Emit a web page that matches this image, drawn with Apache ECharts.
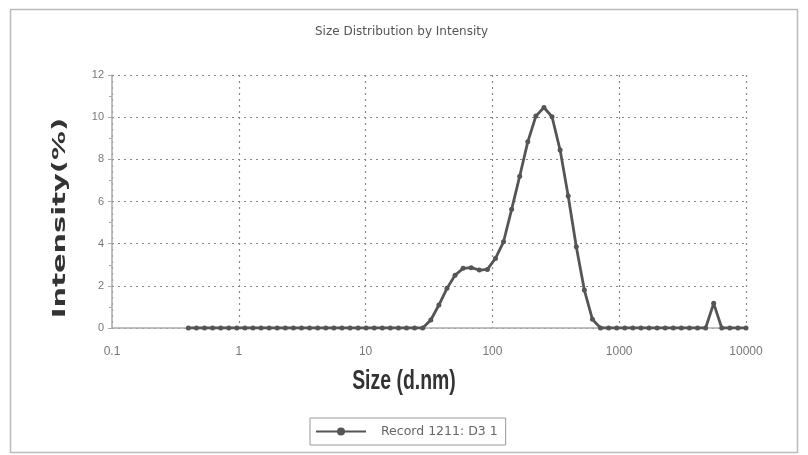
<!DOCTYPE html>
<html>
<head>
<meta charset="utf-8">
<script src="https://cdn.jsdelivr.net/npm/echarts@6/dist/echarts.min.js"></script>
<style>
html,body{margin:0;padding:0;background:#fff;}
#c{width:808px;height:455px;}
</style>
</head>
<body>
<div id="c"></div>
<script>
// Size bins (d.nm)
var sizes = [0.4, 0.4632, 0.5365, 0.6213, 0.7195, 0.8332, 0.9649, 1.117, 1.294, 1.499,
  1.736, 2.01, 2.328, 2.696, 3.122, 3.615, 4.187, 4.849, 5.615, 6.503,
  7.531, 8.721, 10.1, 11.7, 13.54, 15.69, 18.17, 21.04, 24.36, 28.21,
  32.67, 37.84, 43.82, 50.75, 58.77, 68.06, 78.82, 91.28, 105.7, 122.4,
  141.8, 164.2, 190.1, 220.2, 255.0, 295.3, 342.0, 396.1, 458.7, 531.2,
  615.1, 712.4, 825.0, 955.4, 1106, 1281, 1484, 1718, 1990, 2305,
  2669, 3091, 3580, 4145, 4801, 5560, 6439, 7456, 8635, 10000];
// Intensity (%)
var intensity = [0, 0, 0, 0, 0, 0, 0, 0, 0, 0,
  0, 0, 0, 0, 0, 0, 0, 0, 0, 0,
  0, 0, 0, 0, 0, 0, 0, 0, 0, 0,
  0.38, 1.09, 1.88, 2.5, 2.83, 2.86, 2.75, 2.78, 3.3, 4.09,
  5.63, 7.2, 8.83, 10.05, 10.46, 10.02, 8.44, 6.26, 3.85, 1.8,
  0.41, 0, 0, 0, 0, 0, 0, 0, 0, 0,
  0, 0, 0, 0, 0, 1.17, 0, 0, 0, 0];
var xTicks = [0.1, 1, 10, 100, 1000, 10000];
var yTicks = [0, 2, 4, 6, 8, 10, 12];
var seriesName = 'Record 1211: D3 1';
var titleText = 'Size Distribution by Intensity';
var xName = 'Size (d.nm)';
var yName = 'Intensity(%)';

var data = sizes.map(function (s, i) { return [s, intensity[i]]; });

var chart = echarts.init(document.getElementById('c'), null, {renderer: 'canvas'});
chart.setOption({
  animation: false,
  backgroundColor: '#fff',
  graphic: [{
    type: 'rect', shape: {x: 10.5, y: 9.5, width: 787, height: 443},
    style: {fill: 'none', stroke: '#bbb', lineWidth: 1.5}, silent: true, z: -1
  }, {
    type: 'text', x: 404, y: 382, scaleX: 0.72, scaleY: 1,
    style: {text: xName, font: 'bold 27px "Liberation Sans", Arial, sans-serif',
      fill: '#333', align: 'center', verticalAlign: 'middle',
      textAlign: 'center', textVerticalAlign: 'middle'},
    silent: true
  }, {
    type: 'text', x: 60, y: 218, rotation: Math.PI / 2, scaleX: 1.52, scaleY: 0.95,
    style: {text: yName, font: 'bold 19px "DejaVu Sans", sans-serif',
      fill: '#333', align: 'center', verticalAlign: 'middle',
      textAlign: 'center', textVerticalAlign: 'middle'},
    silent: true
  }],
  title: {
    text: titleText, left: 315, top: 26, padding: 0,
    textStyle: {fontSize: 12, fontWeight: 'normal', color: '#555', fontFamily: 'DejaVu Sans'}
  },
  legend: {
    data: [seriesName], top: 418, left: 310,
    itemWidth: 50, itemHeight: 10,
    borderColor: '#999', borderWidth: 1, borderRadius: 0, padding: [7, 8, 7, 5],
    textStyle: {fontSize: 12.5, color: '#666', fontFamily: 'DejaVu Sans', padding: [0, 0, 0, 10]}
  },
  grid: {left: 112, right: 62, top: 75, bottom: 127},
  xAxis: {
    type: 'log', logBase: 10, min: xTicks[0], max: xTicks[xTicks.length - 1],
    axisLine: {lineStyle: {color: '#aaa', width: 1.5}},
    axisTick: {show: false},
    axisLabel: {fontSize: 12, color: '#777', margin: 18, fontFamily: 'Liberation Sans',
      formatter: function (v) { return String(+v.toPrecision(6)); }},
    splitLine: {show: true, lineStyle: {type: [2, 4], color: '#888', width: 1.2}}
  },
  yAxis: {
    type: 'value', min: yTicks[0], max: yTicks[yTicks.length - 1], interval: 2,
    axisLine: {show: true, lineStyle: {color: '#aaa', width: 1.5}},
    axisTick: {show: true, inside: false, length: 4, lineStyle: {color: '#aaa'}},
    minorTick: {show: true, splitNumber: 2, length: 3, lineStyle: {color: '#aaa'}},
    axisLabel: {fontSize: 11, color: '#777', margin: 8, fontFamily: 'Liberation Sans'},
    splitLine: {show: true, lineStyle: {type: [2, 4], color: '#888', width: 1.2}}
  },
  series: [{
    name: seriesName, type: 'line', data: data,
    symbol: 'circle', symbolSize: 5, showSymbol: true,
    lineStyle: {color: '#555', width: 2.8},
    itemStyle: {color: '#555'},
    z: 5
  }]
});
</script>
</body>
</html>
